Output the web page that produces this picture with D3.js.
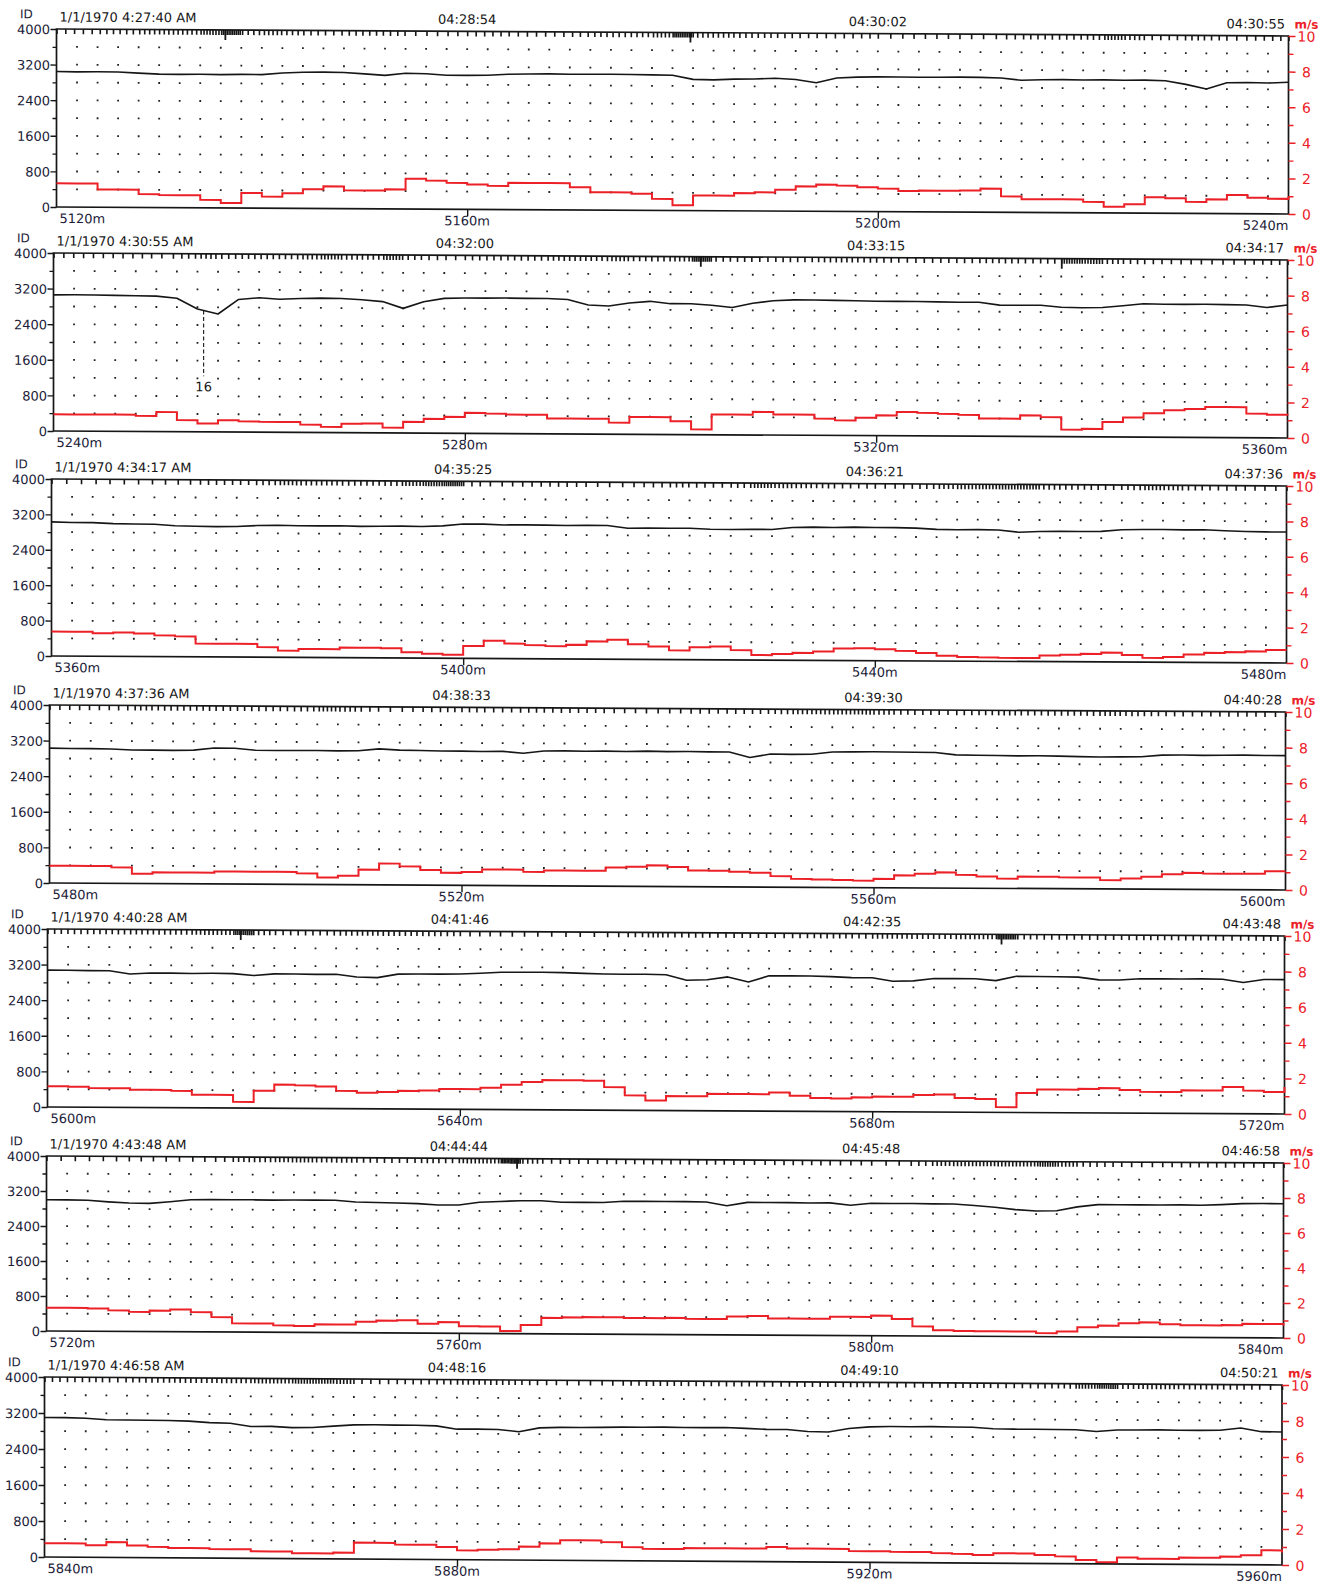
<!DOCTYPE html>
<html><head><meta charset="utf-8">
<script src="https://cdn.jsdelivr.net/npm/d3@7"></script>
<style>
body{margin:0;background:#fff}
svg{display:block;background:#fff}
text{font-family:"DejaVu Sans",sans-serif}
</style>
</head><body>
<svg id="chart" width="1331" height="1584"></svg>
<script>
// ---------------- DATA ----------------
const panelStartDepths = [5120, 5240, 5360, 5480, 5600, 5720, 5840];
const panelStamps = ["1/1/1970 4:27:40 AM","1/1/1970 4:30:55 AM","1/1/1970 4:34:17 AM","1/1/1970 4:37:36 AM","1/1/1970 4:40:28 AM","1/1/1970 4:43:48 AM","1/1/1970 4:46:58 AM"];
const panelTimes = [
  ["04:27:40","04:28:54","04:30:02","04:30:55"],
  ["04:30:55","04:32:00","04:33:15","04:34:17"],
  ["04:34:17","04:35:25","04:36:21","04:37:36"],
  ["04:37:36","04:38:33","04:39:30","04:40:28"],
  ["04:40:28","04:41:46","04:42:35","04:43:48"],
  ["04:43:48","04:44:44","04:45:48","04:46:58"],
  ["04:46:58","04:48:16","04:49:10","04:50:21"]
];
const depthSpan = 120;      // metres per panel
const sampleStep = 2;       // metres between samples
const idTicks = [0,400,800,1200,1600,2000,2400,2800,3200,3600,4000];
const idLabelTicks = [0,800,1600,2400,3200,4000];
const speedTicks = [0,1,2,3,4,5,6,7,8,9,10];
const speedLabelTicks = [0,2,4,6,8,10];

// speed (m/s, red) sampled every 2 m
const speedP1 = [1.33,1.33,1.0,1.0,0.75,0.7,0.7,0.45,0.28,0.85,0.65,0.85,1.08,1.25,1.03,1.03,1.1,1.7,1.6,1.48,1.4,1.33,1.5,1.5,1.5,1.28,1.0,1.0,0.93,0.65,0.3,0.85,0.85,1.0,1.05,1.2,1.4,1.5,1.45,1.37,1.3,1.17,1.2,1.2,1.22,1.33,0.9,0.75,0.75,0.75,0.62,0.35,0.5,0.9,0.85,0.65,0.8,1.05,0.9,0.85,1.0];
const speedP2 = [0.94,0.94,0.94,0.94,0.88,1.1,0.65,0.47,0.66,0.6,0.58,0.58,0.44,0.32,0.5,0.52,0.3,0.63,0.8,0.92,1.15,1.12,1.07,1.07,0.86,0.86,0.86,0.65,0.97,0.97,0.75,0.3,1.14,1.14,1.3,1.16,1.16,0.94,0.85,1.0,1.14,1.34,1.3,1.25,1.2,1.0,1.0,1.19,1.1,0.4,0.45,0.84,1.1,1.35,1.52,1.6,1.72,1.72,1.36,1.3,1.27];
const speedP3 = [1.38,1.38,1.3,1.35,1.3,1.2,1.15,0.75,0.75,0.75,0.57,0.38,0.48,0.48,0.57,0.57,0.55,0.33,0.25,0.2,0.7,1.0,0.85,0.77,0.72,0.8,1.0,1.1,0.85,0.73,0.52,0.7,0.75,0.55,0.28,0.35,0.42,0.5,0.68,0.7,0.65,0.56,0.45,0.3,0.24,0.22,0.2,0.2,0.35,0.4,0.45,0.53,0.4,0.25,0.3,0.45,0.55,0.6,0.65,0.73,0.73];
const speedP4 = [0.97,0.97,0.97,0.9,0.55,0.63,0.63,0.63,0.7,0.7,0.7,0.7,0.62,0.4,0.5,0.85,1.2,1.05,0.85,0.7,0.75,0.9,0.9,0.78,0.86,0.86,0.86,1.05,1.1,1.18,1.1,0.91,0.9,0.85,0.8,0.62,0.47,0.44,0.42,0.39,0.5,0.7,0.8,0.88,0.75,0.66,0.55,0.67,0.67,0.64,0.64,0.5,0.6,0.7,0.85,0.93,0.9,0.9,0.9,1.05,1.05];
const speedP5 = [1.17,1.15,1.08,1.08,1.0,1.0,0.95,0.74,0.74,0.35,0.98,1.33,1.3,1.24,1.0,0.9,0.95,1.02,1.05,1.14,1.14,1.22,1.4,1.56,1.67,1.67,1.65,1.3,0.84,0.56,0.81,0.81,0.95,0.95,0.95,1.05,0.87,0.75,0.73,0.8,0.85,0.85,0.95,0.99,0.8,0.75,0.3,1.1,1.3,1.3,1.35,1.4,1.3,1.2,1.2,1.3,1.3,1.5,1.3,1.23,1.52];
const speedP6 = [1.33,1.33,1.3,1.2,1.12,1.2,1.27,1.13,0.85,0.5,0.5,0.4,0.37,0.47,0.47,0.63,0.7,0.73,0.54,0.64,0.41,0.4,0.15,0.5,0.91,0.95,0.97,0.97,0.93,0.93,0.95,0.9,0.9,1.05,1.09,0.95,0.95,0.95,1.07,1.07,1.15,0.96,0.55,0.33,0.3,0.29,0.29,0.29,0.2,0.3,0.55,0.65,0.79,0.85,0.75,0.7,0.7,0.72,0.8,0.8,0.7];
const speedP7 = [0.77,0.77,0.67,0.85,0.67,0.6,0.55,0.55,0.5,0.5,0.39,0.39,0.3,0.3,0.35,0.91,0.91,0.82,0.82,0.7,0.52,0.56,0.6,0.75,0.94,1.12,1.12,1.03,0.76,0.67,0.67,0.73,0.73,0.73,0.73,0.82,0.74,0.74,0.74,0.62,0.62,0.59,0.59,0.54,0.5,0.45,0.55,0.55,0.47,0.4,0.21,0.1,0.36,0.3,0.3,0.38,0.38,0.45,0.53,0.81,0.69];

// ID (black) sampled every 2 m
const idP1 = [3045,3040,3045,3040,3020,3000,2995,3000,2995,3005,3000,3040,3060,3065,3060,3030,3000,3050,3040,3010,3010,3015,3040,3050,3055,3050,3050,3055,3050,3045,3040,2950,2940,2960,2965,2985,2960,2890,3000,3020,3030,3030,3025,3030,3035,3030,3020,2970,2985,2990,2985,2990,2985,2990,2980,2900,2800,2940,2950,2940,2960];
const idP2 = [3060,3065,3060,3055,3050,3045,3000,2760,2650,2980,3020,2990,3010,3020,3015,2990,2950,2800,2950,3030,3040,3040,3045,3040,3040,3020,2900,2880,2950,2990,2940,2940,2910,2860,2960,3020,3040,3040,3035,3030,3020,3020,3020,3015,3010,3010,2950,2950,2950,2910,2900,2910,2950,3000,2990,2990,2995,2990,2985,2930,2990];
const idP3 = [3030,3020,3020,3000,2995,2990,2960,2950,2945,2950,2975,2985,2975,2975,2980,2970,2975,2980,2975,2990,3035,3035,3020,3025,3020,3015,3025,3020,2960,2970,2965,2970,2950,2945,2955,2950,3000,3010,3005,3015,3010,3010,3000,2975,2970,2975,2970,2920,2940,2950,2945,2950,2990,3000,3000,2995,3000,2980,2965,2960,2960];
const idP4 = [3030,3025,3025,3020,3000,3000,2995,3005,3055,3050,3010,3005,3010,3010,3005,3010,3055,3030,3025,3015,3015,3010,3015,2975,3030,3035,3030,3035,3030,3040,3030,3035,3030,3030,2910,2990,2985,2990,3045,3050,3055,3050,3050,3045,2995,2990,2985,2980,2985,2980,2970,2965,2970,2975,3015,3020,3015,3020,3025,3020,3020];
const idP5 = [3075,3075,3070,3070,3000,3025,3025,3020,3025,3020,2980,3020,3020,3015,3020,2960,2950,3030,3035,3035,3040,3060,3085,3090,3090,3085,3070,3060,3055,3058,3050,2930,2945,3010,2900,3040,3040,3040,3030,3010,3010,2935,2945,3000,3000,3000,2960,3060,3060,3055,3050,2990,2990,3020,3020,3020,3025,3020,2950,3020,3020];
const idP6 = [3000,3000,2995,2960,2935,2930,2970,3020,3025,3025,3025,3020,3025,3025,3025,2990,2980,2970,2960,2930,2935,3000,3020,3040,3040,3010,3010,3010,3040,3040,3040,3040,3035,2950,3030,3030,3030,3025,3030,2980,3025,3025,3025,3020,3020,2990,2950,2900,2870,2880,2970,3025,3025,3025,3025,3030,3025,3040,3065,3070,3070];
const idP7 = [3100,3100,3090,3060,3055,3055,3050,3040,3010,3000,2930,2935,2910,2915,2950,2980,2985,2980,2980,2970,2900,2905,2900,2850,2940,2955,2955,2960,2970,2970,2975,2970,2970,2975,2960,2940,2940,2900,2890,2970,3010,3020,3020,3025,3020,3015,2985,2980,2980,2980,2975,2940,2975,2980,2985,2980,2980,2985,3040,2960,2955];

// long event marks on the time axis (depth, m)
const eventDepths = [[5136.4,5181.7],[5302.9,5338.0],[],[],[5618.7,5692.5],[5765.6],[]];
// annotation
const annotations = [{panel:1, depth:5254.6, label:"16", toId:1250}];

const speedSeries = [speedP1,speedP2,speedP3,speedP4,speedP5,speedP6,speedP7];
const idSeries = [idP1,idP2,idP3,idP4,idP5,idP6,idP7];

// ---------------- LAYOUT ----------------
const panelTop   = [29, 253, 479, 705, 929, 1156, 1377];
const panelH     = [178, 178, 177, 178, 178, 175, 180];
const panelLeft  = [56.5, 53.5, 51.5, 49.5, 47.5, 46.5, 44.5];
const panelRight = [1288.5, 1287.5, 1286.5, 1285.5, 1284.5, 1283.5, 1282];
const panelDrop  = [7, 7, 7, 7, 7, 7, 8];

const RED = "#ec2027", INK = "#161616", NAVY = "#1b1b38";
const svg = d3.select("#chart");

function toSec(s){const [h,m,x]=s.split(":").map(Number);return h*3600+m*60+x;}

// time ticks: one per second, placed by integrating 1/speed inside each 40 m stretch
function timeTickDepths(p){
  const sp = speedSeries[p], d0 = panelStartDepths[p], t = panelTimes[p].map(toSec);
  const per = 40 / sampleStep, out = [];
  for (let k = 0; k < 3; k++){
    const i0 = k*per, w = [];
    for (let i = i0; i < i0+per; i++) w.push(sampleStep/Math.max(sp[i],0.15));
    const tot = d3.sum(w), dur = t[k+1]-t[k];
    const cum = [0];
    w.forEach(v => cum.push(cum[cum.length-1] + v*dur/tot));
    for (let s = 0; s < dur; s++){
      let j = d3.bisectRight(cum, s) - 1;
      if (j > per-1) j = per-1;
      const f = (s - cum[j])/(cum[j+1]-cum[j]);
      out.push(d0 + (i0 + j + f)*sampleStep);
    }
  }
  out.push(d0 + depthSpan);
  return out;
}

function styleAxis(sel, color, width){
  sel.selectAll("path.domain").remove();
  sel.selectAll(".tick line").attr("stroke", color).attr("stroke-width", width);
  sel.attr("font-family", null).attr("font-size", null);
}

panelStartDepths.forEach((d0, p) => {
  const L = panelLeft[p], T = panelTop[p], H = panelH[p], W = panelRight[p]-L;
  const g = svg.append("g")
    .attr("transform", `translate(${L},${T}) matrix(1,${panelDrop[p]/W},0,1,0,0)`);

  const x = d3.scaleLinear().domain([d0, d0+depthSpan]).range([0, W]);
  const yId = d3.scaleLinear().domain([0, 4000]).range([H, 0]);
  const ySp = d3.scaleLinear().domain([0, 10]).range([H, 0]);

  // dotted grid
  const cols = d3.range(d0+sampleStep, d0+depthSpan, sampleStep);
  const rows = idTicks.filter(v => v > 0 && v < 4000);
  const dots = [];
  cols.forEach(c => rows.forEach(r => dots.push([c, r])));
  g.append("g").selectAll("rect").data(dots).join("rect")
    .attr("x", d => x(d[0]) - 0.9).attr("y", d => yId(d[1]) - 0.9)
    .attr("width", 1.8).attr("height", 1.8).attr("fill", "#222");

  // frame
  g.append("rect").attr("x",0).attr("y",0).attr("width",W).attr("height",H)
    .attr("fill","none").attr("stroke",INK).attr("stroke-width",1.7);

  // top time ticks
  const tt = g.append("g").call(d3.axisBottom(x).tickValues(timeTickDepths(p)).tickSize(5).tickSizeOuter(0).tickFormat(""));
  styleAxis(tt, INK, 1.6);
  if (eventDepths[p].length){
    const ev = g.append("g").call(d3.axisBottom(x).tickValues(eventDepths[p]).tickSize(10).tickSizeOuter(0).tickFormat(""));
    styleAxis(ev, INK, 1.8);
  }

  // bottom depth ticks
  const bt = g.append("g").attr("transform", `translate(0,${H})`)
    .call(d3.axisBottom(x).tickValues([d0+40, d0+80]).tickSize(7).tickSizeOuter(0).tickFormat(""));
  styleAxis(bt, INK, 1.4);

  // left ID axis
  const la = g.append("g").call(d3.axisLeft(yId).tickValues(idLabelTicks).tickSize(6).tickPadding(0.5).tickSizeOuter(0).tickFormat(d3.format("d")));
  styleAxis(la, INK, 1.4);
  la.selectAll("text").attr("fill", NAVY).attr("font-size", 13).attr("dy", "0.36em");
  const lm = g.append("g").call(d3.axisLeft(yId).tickValues(idTicks.filter(v => !idLabelTicks.includes(v))).tickSize(4).tickSizeOuter(0).tickFormat(""));
  styleAxis(lm, INK, 1.3);

  // right speed axis (red)
  const ra = g.append("g").attr("transform", `translate(${W},0)`)
    .call(d3.axisRight(ySp).tickValues(speedLabelTicks).tickSize(7).tickPadding(0).tickSizeOuter(0).tickFormat(d3.format("d")));
  styleAxis(ra, RED, 1.5);
  ra.selectAll("text").attr("fill", RED).attr("font-size", 14).attr("text-anchor","middle").attr("x", 18).attr("dy","0.36em");
  const rm = g.append("g").attr("transform", `translate(${W},0)`)
    .call(d3.axisRight(ySp).tickValues(speedTicks.filter(v => !speedLabelTicks.includes(v))).tickSize(5).tickSizeOuter(0).tickFormat(""));
  styleAxis(rm, RED, 1.4);

  // series
  const sp = speedSeries[p], id = idSeries[p];
  g.append("path").datum(id)
    .attr("d", d3.line().x((v,i) => x(d0 + i*sampleStep)).y(v => yId(v)))
    .attr("fill","none").attr("stroke", INK).attr("stroke-width", 1.6).attr("stroke-linejoin","round");
  g.append("path").datum(sp)
    .attr("d", d3.line().curve(d3.curveStepAfter).x((v,i) => x(d0 + i*sampleStep)).y(v => ySp(v)))
    .attr("fill","none").attr("stroke", RED).attr("stroke-width", 2);

  // texts
  g.append("text").attr("x", -36.5).attr("y", -10.5).attr("font-size", 12).attr("fill", NAVY).text("ID");
  g.append("text").attr("x", 3).attr("y", -7.5).attr("font-size", 13).attr("fill", INK).text(panelStamps[p]);
  [1,2].forEach(k => {
    g.append("text").attr("x", x(d0 + 40*k)).attr("y", -7.5).attr("text-anchor","middle")
      .attr("font-size", 13).attr("fill", INK).text(panelTimes[p][k]);
  });
  g.append("text").attr("x", W - 3.5).attr("y", -7.5).attr("text-anchor","end")
    .attr("font-size", 13).attr("fill", INK).text(panelTimes[p][3]);
  g.append("text").attr("x", W + 18).attr("y", -7.5).attr("text-anchor","middle")
    .attr("font-size", 12).attr("font-weight","bold").attr("fill", RED).text("m/s");

  const depthLabels = [0,40,80,120].map(o => d0 + o);
  depthLabels.forEach((d, k) => {
    g.append("text")
      .attr("x", k === 0 ? 3 : (k === 3 ? W : x(d)))
      .attr("y", H + 16)
      .attr("text-anchor", k === 0 ? "start" : (k === 3 ? "end" : "middle"))
      .attr("font-size", 13).attr("fill", NAVY).text(d + "m");
  });

  // annotations
  annotations.filter(a => a.panel === p).forEach(a => {
    const i = (a.depth - d0)/sampleStep, i0 = Math.floor(i);
    const from = d3.interpolateNumber(id[i0], id[i0+1])(i - i0);
    g.append("line").attr("x1", x(a.depth)).attr("x2", x(a.depth))
      .attr("y1", yId(from)).attr("y2", yId(a.toId))
      .attr("stroke", INK).attr("stroke-width", 1.1).attr("stroke-dasharray", "4,2.5");
    g.append("text").attr("x", x(a.depth)).attr("y", yId(a.toId) + 15)
      .attr("text-anchor","middle").attr("font-size", 13).attr("fill", INK).text(a.label);
  });
});
</script>
</body></html>
